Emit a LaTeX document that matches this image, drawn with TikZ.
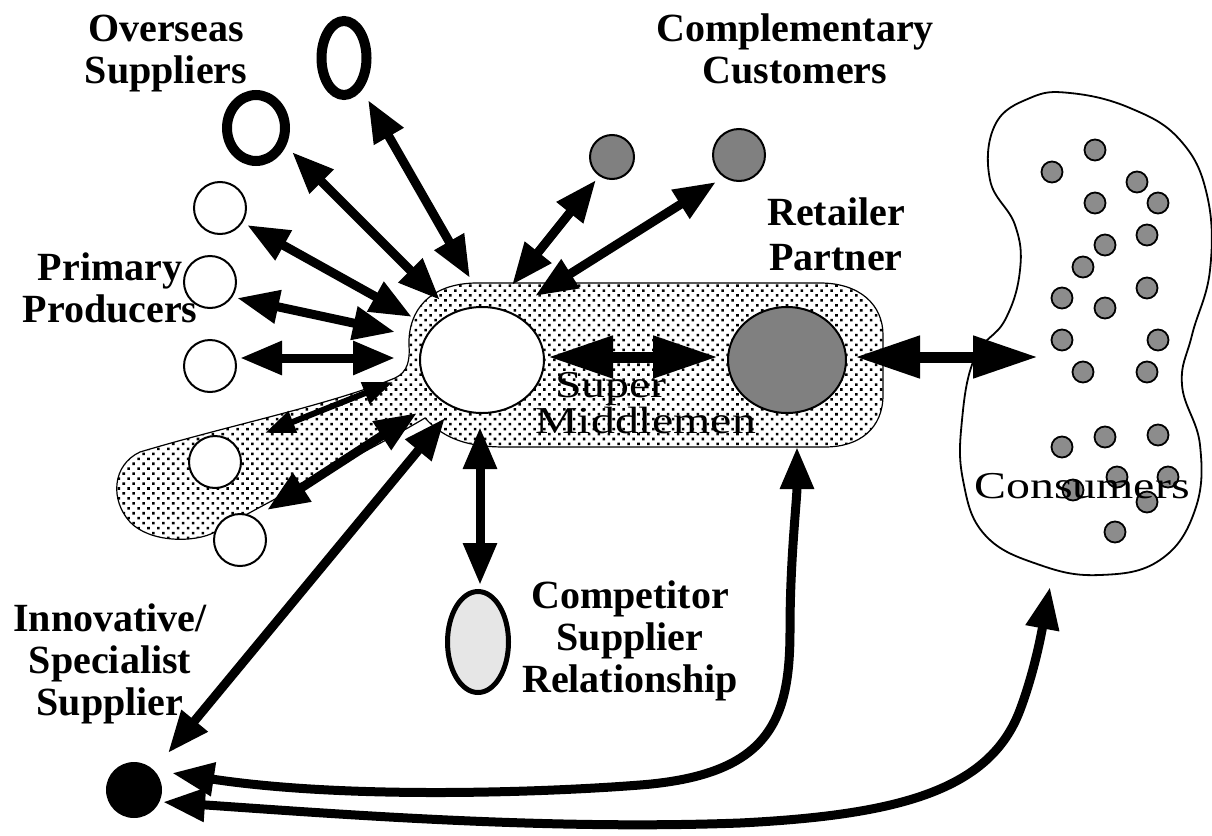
\documentclass[tikz,border=0pt]{standalone}
\usepackage{fontspec}
\setmainfont{Liberation Serif}
\newfontfamily\regwide{Liberation Serif}[FakeStretch=1.26]
\usetikzlibrary{arrows.meta,patterns.meta,shapes.geometric}
\definecolor{midgray}{HTML}{808080}
\definecolor{dotgray}{HTML}{8C8C8C}
\definecolor{palegray}{HTML}{E6E6E6}
\begin{document}
\begin{tikzpicture}[x=1pt,y=-1pt,
 lbl/.style={font=\bfseries\fontsize{40}{42}\selectfont, align=center, anchor=base, inner sep=0pt},
 reglbl/.style={font=\regwide\fontsize{38}{33}\selectfont, inner sep=0pt},
 wcirc/.style={circle, draw, line width=2pt, fill=white, minimum size=52pt, inner sep=0pt},
 gcirc/.style={circle, draw, line width=2pt, fill=midgray, inner sep=0pt},
 cdot/.style={circle, draw, line width=1.8pt, fill=dotgray, minimum size=21pt, inner sep=0pt},
 ring/.style={ellipse, draw, inner sep=0pt},
 dbl/.style={line width=9pt, {Triangle[length=42pt,width=32pt]}-{Triangle[length=42pt,width=32pt]}},
 dblwide/.style={line width=11pt, {Triangle[length=65pt,width=40pt]}-{Triangle[length=65pt,width=40pt]}},
 dblsmall/.style={line width=6pt, {Triangle[length=30pt,width=22pt]}-{Triangle[length=30pt,width=22pt]}},
 stipple/.style={draw, line width=1.2pt, fill=white, postaction={pattern={Dots[distance=7pt,angle=45,radius=1.8pt]}}},
]
\useasboundingbox (0,0) rectangle (1212,835);

% stippled region (super middlemen + retailer + tail)
\path[stipple] (475,283) -- (820,283) .. controls (860,283) and (883,305) .. (883,335)
  -- (883,395) .. controls (883,428) and (860,447) .. (825,447) -- (505,447)
  .. controls (470,447) and (445,440) .. (425,418)
  .. controls (380,445) and (280,495) .. (215,532)
  .. controls (195,543) and (150,543) .. (130,522)
  .. controls (110,500) and (112,465) .. (140,452)
  .. controls (230,425) and (330,405) .. (395,378)
  .. controls (408,372) and (410,360) .. (409,345)
  .. controls (408,310) and (430,284) .. (475,283) -- cycle;

% consumers blob
\draw[line width=1.8pt] plot[smooth cycle, tension=0.7] coordinates {
 (1070,93) (1130,108) (1180,140) (1207,195) (1210,270) (1192,335) (1182,385)
 (1200,445) (1195,510) (1160,560) (1100,575) (1040,565) (985,535) (963,480)
 (962,420) (975,357) (1005,320) (1020,270) (1015,225) (990,180) (995,125) (1030,98)};
\foreach \x/\y [count=\i] in {1095/150,1052/172,1137/182,1095/203,1158/203,1147/235,
 1105/245,1083/267,1147/288,1062/298,1105/308,1062/340,1158/340,1083/372,1147/372,
 1062/447,1105/437,1158/435,1117/477,1168/477,1073/490,1147/502,1115/532}
 \node[cdot] (d\i) at (\x,\y) {};

% nodes
\node[ring, line width=10pt, minimum width=58pt, minimum height=66pt] (ovBig) at (256,128) {};
\node[ring, line width=10pt, minimum width=45pt, minimum height=74pt] (ovSmall) at (344,58) {};
\node[wcirc] (p1) at (220,208) {};
\node[wcirc] (p2) at (210,282) {};
\node[wcirc] (p3) at (210,366) {};
\node[wcirc] (p4) at (215,462) {};
\node[wcirc] (p5) at (240,540) {};
\node[gcirc, minimum size=44pt] (cc1) at (612,157) {};
\node[gcirc, minimum size=52pt] (cc2) at (739,155) {};
\node[ellipse, draw, line width=2pt, fill=white, minimum width=124pt, minimum height=106pt, inner sep=0pt] (sm) at (482,360) {};
\node[ellipse, draw, line width=2pt, fill=midgray, minimum width=118pt, minimum height=106pt, inner sep=0pt] (rp) at (787,360) {};
\node[ellipse, draw, line width=5pt, fill=palegray, minimum width=61pt, minimum height=101pt, inner sep=0pt] (cs) at (478,642) {};
\node[circle, fill=black, minimum size=56pt, inner sep=0pt] (inno) at (134,790) {};

% arrow end points
\coordinate (a1s) at (368,100);  \coordinate (a1e) at (470,278);
\coordinate (a2s) at (292,152);  \coordinate (a2e) at (440,300);
\coordinate (a3s) at (247,225);  \coordinate (a3e) at (412,317);
\coordinate (a4s) at (237,298);  \coordinate (a4e) at (395,332);
\coordinate (a5s) at (240,358);  \coordinate (a5e) at (395,358);
\coordinate (a6s) at (265,433);  \coordinate (a6e) at (393,382);
\coordinate (a7s) at (267,510);  \coordinate (a7e) at (417,413);
\coordinate (a8s) at (168,753);  \coordinate (a8e) at (445,418);
\coordinate (a9s) at (596,180);  \coordinate (a9e) at (512,285);
\coordinate (a10s) at (716,182); \coordinate (a10e) at (535,296);
\coordinate (a11s) at (548,357); \coordinate (a11e) at (718,357);
\coordinate (a12s) at (855,357); \coordinate (a12e) at (1038,357);
\coordinate (a13s) at (480,427); \coordinate (a13e) at (480,585);
\coordinate (a14s) at (172,773); \coordinate (a14e) at (797,447);
\coordinate (a15s) at (163,802); \coordinate (a15e) at (1050,587);

% arrows
\draw[dbl] (a1s) -- (a1e);
\draw[dbl] (a2s) -- (a2e);
\draw[dbl] (a3s) -- (a3e);
\draw[dbl] (a4s) -- (a4e);
\draw[dbl] (a5s) -- (a5e);
\draw[dblsmall] (a6s) -- (a6e);
\draw[dbl] (a7s) -- (a7e);
\draw[dbl] (a8s) -- (a8e);
\draw[dbl] (a9s) -- (a9e);
\draw[dbl] (a10s) -- (a10e);
\draw[dblwide] (a11s) -- (a11e);
\draw[dblwide] (a12s) -- (a12e);
\draw[dbl] (a13s) -- (a13e);
\draw[dbl] (a14s) .. controls (350,800) and (550,792) .. (640,785)
  .. controls (770,775) and (790,720) .. (790,630)
  .. controls (790,560) and (797,500) .. (a14e);
\draw[dbl] (a15s) .. controls (350,815) and (550,830) .. (740,823)
  .. controls (900,815) and (990,790) .. (1020,710)
  .. controls (1035,670) and (1042,630) .. (a15e);

% labels (base anchor = baseline of last line)
\node[lbl] (tOver) at (166,83) {Overseas\\Suppliers};
\node[lbl] (tComp) at (795,83) {Complementary\\Customers};
\node[lbl] (tRet) at (836,270) {Retailer\\[3pt]Partner};
\node[lbl] (tPrim) at (110,322) {Primary\\Producers};
\node[lbl] (tCompet) at (630,692) {Competitor\\Supplier\\Relationship};
\node[lbl] (tInno) at (110,715) {Innovative/\\Specialist\\Supplier};
\node[reglbl, align=left, anchor=base west] (tSuper) at (535,433) {\hspace*{20pt}Super\\Middlemen};
\node[reglbl, anchor=base] (tCons) at (1082,498) {Consumers};
\end{tikzpicture}
\end{document}
